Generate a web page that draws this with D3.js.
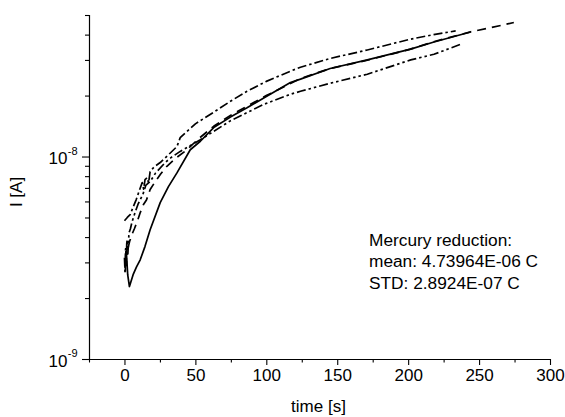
<!DOCTYPE html>
<html>
<head>
<meta charset="utf-8">
<script src="https://cdn.jsdelivr.net/npm/d3@7"></script>
<style>
  html, body { margin: 0; padding: 0; background: #fff; }
  svg { display: block; font-family: Arial, "Liberation Sans", sans-serif; }
</style>
</head>
<body>
<svg id="chart" width="565" height="417"></svg>
<script>
// ---- data (time in s, current in A) ----
const xTicks = [0, 50, 100, 150, 200, 250, 300];
const yMajorTicks = [1e-9, 1e-8];
const yMajorLabels = ["-9", "-8"];
const annotation = ["Mercury reduction:", "mean: 4.73964E-06 C", "STD: 2.8924E-07 C"];
const xLabel = "time [s]";
const yLabel = "I [A]";

const solidT = [0.8, 1.4, 2.3, 3.5, 4.5, 6.1, 8.5, 11.1, 14.5, 18.1, 25.2, 31, 37, 46.4, 53.5, 62.9, 75, 86.4, 100, 117, 124.1, 145, 171.2, 201.7, 218.2, 244];
const solidI = [3.0e-9, 3.3e-9, 2.6e-9, 2.28e-9, 2.4e-9, 2.61e-9, 2.85e-9, 3.09e-9, 3.6e-9, 4.35e-9, 5.92e-9, 7.1e-9, 8.3e-9, 1.08e-8, 1.19e-8, 1.39e-8, 1.57e-8, 1.74e-8, 1.98e-8, 2.32e-8, 2.41e-8, 2.72e-8, 3.0e-8, 3.39e-8, 3.68e-8, 4.12e-8];

const dashT = [0.6, 1.0, 1.4, 1.8, 2.6, 3.6, 5.2, 7, 9, 11.2, 13.4, 15.5, 18.1, 21.7, 25.5, 29.9, 36, 44.1, 52, 62.9, 75, 86.4, 100, 124.1, 145, 171.2, 201, 218, 244.1, 258.3, 274.5];
const dashI = [2.7e-9, 3.4e-9, 2.9e-9, 3.7e-9, 3.54e-9, 3.8e-9, 4.11e-9, 4.4e-9, 4.77e-9, 5.3e-9, 5.79e-9, 6.1e-9, 6.87e-9, 7.52e-9, 8.2e-9, 8.95e-9, 9.8e-9, 1.08e-8, 1.22e-8, 1.41e-8, 1.6e-8, 1.77e-8, 2.0e-8, 2.43e-8, 2.72e-8, 2.99e-8, 3.38e-8, 3.69e-8, 4.13e-8, 4.33e-8, 4.59e-8];

const dashDotT = [0, 2, 4, 6, 8.3, 10.5, 12.5, 13.5, 14.5, 16, 17, 18.1, 21, 25.2, 31, 37, 39.3, 50, 62.6, 75, 86.4, 100, 117, 124.1, 145, 171.2, 201.8, 218, 233.5];
const dashDotI = [4.82e-9, 5.0e-9, 5.16e-9, 5.6e-9, 6.13e-9, 6.8e-9, 7.43e-9, 6.9e-9, 7.7e-9, 7.87e-9, 7.4e-9, 8.43e-9, 8.9e-9, 9.34e-9, 1.02e-8, 1.12e-8, 1.24e-8, 1.45e-8, 1.65e-8, 1.88e-8, 2.1e-8, 2.35e-8, 2.64e-8, 2.76e-8, 3.05e-8, 3.36e-8, 3.8e-8, 4.0e-8, 4.17e-8];

const dashDotDotT = [0, 0.4, 0.8, 1.2, 1.6, 1.9, 2.4, 3.2, 4.2, 5.4, 7.5, 9.5, 11.1, 13, 15, 18.1, 22, 28.7, 33, 39.3, 53.5, 74.6, 98.2, 117, 124.1, 145, 171.2, 201.8, 218.2, 238.3];
const dashDotDotI = [3.16e-9, 2.7e-9, 3.5e-9, 2.9e-9, 3.7e-9, 3.88e-9, 3.3e-9, 4.2e-9, 4.4e-9, 4.77e-9, 5.3e-9, 5.8e-9, 6.12e-9, 6.5e-9, 7.2e-9, 7.52e-9, 8.3e-9, 9.34e-9, 9.9e-9, 1.06e-8, 1.21e-8, 1.5e-8, 1.81e-8, 2.03e-8, 2.1e-8, 2.3e-8, 2.55e-8, 3.0e-8, 3.2e-8, 3.61e-8];

const series = [
  { t: solidT, I: solidI, dash: null, w: 1.7 },
  { t: dashT, I: dashI, dash: "9,6", w: 1.7 },
  { t: dashDotT, I: dashDotI, dash: "9,3,2.5,3", w: 1.7 },
  { t: dashDotDotT, I: dashDotDotI, dash: "9,3,2.5,3,2.5,3", w: 1.7 }
];

// ---- layout ----
const svg = d3.select("#chart");
const x = d3.scaleLinear().domain([-25, 300]).range([89, 550]);
const y = d3.scaleLog().domain([1e-9, 5e-8]).range([359, 15]);

// ---- curves ----
const line = d3.line().x(d => x(d[0])).y(d => y(d[1]));
series.forEach(s => {
  const pts = s.t.map((t, i) => [t, s.I[i]]);
  svg.append("path")
    .attr("d", line(pts))
    .attr("fill", "none")
    .attr("stroke", "#000")
    .attr("stroke-width", s.w)
    .attr("stroke-linejoin", "round")
    .attr("stroke-dasharray", s.dash);
});

// ---- x axis ----
const xMinor = d3.range(-25, 301, 25).filter(v => v % 50 !== 0);
const gx = svg.append("g").attr("transform", "translate(0,359)");
gx.call(d3.axisBottom(x).tickValues(xMinor).tickSize(3.5).tickFormat(""));
gx.call(g => g.select(".domain").remove());
const gx2 = svg.append("g").attr("transform", "translate(0,359)");
gx2.call(d3.axisBottom(x).tickValues(xTicks).tickSize(6).tickPadding(4).tickFormat(d3.format("d")));
gx2.select(".domain").attr("d", `M${x(-25)},0.5H${x(300)}`);
gx2.selectAll("text").attr("font-size", 17).attr("fill", "#000").attr("font-family", "Arial, 'Liberation Sans', sans-serif");
svg.selectAll(".tick line").attr("stroke", "#000");
svg.selectAll(".domain").attr("stroke", "#000").attr("stroke-width", 1.2);

// ---- y axis ----
const yMinor = [];
[1e-9, 1e-8].forEach(d => { for (let k = 2; k <= 9; k++) { const v = d * k; if (v <= 5e-8 + 1e-20) yMinor.push(v); } });
const gy = svg.append("g").attr("transform", "translate(89,0)");
gy.call(d3.axisLeft(y).tickValues(yMinor).tickSize(4).tickFormat(""));
gy.call(g => g.select(".domain").remove());
const gy2 = svg.append("g").attr("transform", "translate(89,0)");
gy2.call(d3.axisLeft(y).tickValues(yMajorTicks).tickSize(7).tickFormat(""));
gy2.select(".domain").attr("d", `M0.5,${y(5e-8)}V${y(1e-9)}`).attr("stroke", "#000").attr("stroke-width", 1.2);
svg.selectAll(".tick line").attr("stroke", "#000").attr("stroke-width", 1.1);

yMajorTicks.forEach((v, i) => {
  const yy = y(v);
  svg.append("text").attr("x", 67.5).attr("y", yy + 7.5)
    .attr("text-anchor", "end").attr("font-size", 17).text("10");
  svg.append("text").attr("x", 67.8).attr("y", yy - 2)
    .attr("text-anchor", "start").attr("font-size", 11).text(yMajorLabels[i]);
});

// ---- axis titles ----
svg.append("text").attr("x", 318.5).attr("y", 412)
  .attr("text-anchor", "middle").attr("font-size", 17).text(xLabel);
svg.append("text").attr("transform", "translate(22,192) rotate(-90)")
  .attr("text-anchor", "middle").attr("font-size", 17).text(yLabel);

// ---- annotation ----
annotation.forEach((s, i) => {
  svg.append("text").attr("x", 369).attr("y", 245.5 + i * 21.5)
    .attr("font-size", 17.3).attr("fill", "#000").text(s);
});
</script>
</body>
</html>
